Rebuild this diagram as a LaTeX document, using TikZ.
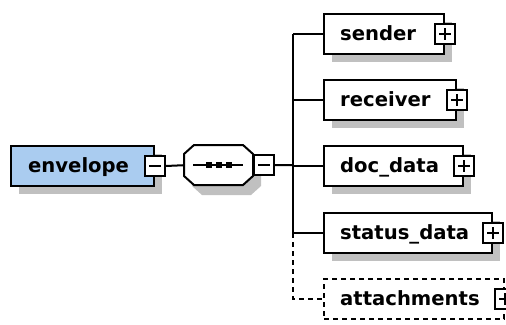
\documentclass[tikz,border=0pt]{standalone}
\usepackage{fontspec}
\setmainfont{DejaVu Sans}
\usetikzlibrary{shadows}
\definecolor{envfill}{RGB}{170,204,240}
\definecolor{shadowc}{RGB}{192,192,192}
\begin{document}
\begin{tikzpicture}[x=1pt,y=-1pt,
  elem/.style={draw=black, line width=2pt, fill=white, minimum height=40pt, inner sep=0pt, anchor=north west,
    drop shadow={shadow xshift=8pt, shadow yshift=-8pt, fill=shadowc, opacity=1}},
  optelem/.style={draw=black, line width=2pt, fill=white, minimum height=40pt, inner sep=0pt, anchor=north west, dash pattern=on 5pt off 4pt},
  lbl/.style={font=\bfseries\fontsize{19.6}{22}\selectfont, anchor=base west, inner sep=0pt},
  tog/.style={draw=black, line width=1.8pt, fill=white, minimum width=20pt, minimum height=20pt, inner sep=0pt},
  plus/.style={tog, path picture={
    \draw[line width=1.8pt] ([xshift=4pt]path picture bounding box.west) -- ([xshift=-4pt]path picture bounding box.east);
    \draw[line width=1.8pt] ([yshift=-4pt]path picture bounding box.north) -- ([yshift=4pt]path picture bounding box.south);}},
  minus/.style={tog, path picture={
    \draw[line width=1.8pt] ([xshift=4pt]path picture bounding box.west) -- ([xshift=-4pt]path picture bounding box.east);}},
  conn/.style={line width=2pt},
  optconn/.style={line width=2pt, dash pattern=on 5pt off 4pt}
]
\useasboundingbox (0,0) rectangle (506,324);

% envelope
\node[elem, fill=envfill, minimum width=143pt] (envelope) at (10,145) {};
\node[lbl] (envlbl) at ([xshift=18pt,yshift=-6.5pt]envelope.west) {envelope};
\node[minus] (envT) at (envelope.east) {};

% sequence compositor
\fill[shadowc] (202,155) -- (251,155) -- (261,164) -- (261,186) -- (251,195) -- (202,195) -- (192,186) -- (192,164) -- cycle;
\draw[line width=2pt, fill=white] (194,145) -- (243,145) -- (253,154) -- (253,176) -- (243,185) -- (194,185) -- (184,176) -- (184,154) -- cycle;
\node[minimum width=69pt, minimum height=40pt, inner sep=0pt, anchor=north west] (seq) at (184,145) {};
\draw[line width=2pt] (193,165) -- (243,165);
\fill (206,162) rectangle (212,168);
\fill (216,162) rectangle (222,168);
\fill (226,162) rectangle (232,168);
\node[minus, anchor=west] (seqT) at (seq.east) {};

% children
\node[elem, minimum width=120pt] (sender) at (323,13) {};
\node[lbl] at ([xshift=17pt,yshift=-6pt]sender.west) {sender};
\node[plus] (senderT) at (sender.east) {};

\node[elem, minimum width=132pt] (receiver) at (323,79) {};
\node[lbl] at ([xshift=17pt,yshift=-6pt]receiver.west) {receiver};
\node[plus] (receiverT) at (receiver.east) {};

\node[elem, minimum width=139pt] (docdata) at (323,145) {};
\node[lbl] at ([xshift=17pt,yshift=-6pt]docdata.west) {doc\_data};
\node[plus] (docdataT) at (docdata.east) {};

\node[elem, minimum width=168pt] (status) at (323,212) {};
\node[lbl] at ([xshift=17pt,yshift=-6pt]status.west) {status\_data};
\node[plus] (statusT) at (status.east) {};

\node[optelem, minimum width=180pt] (attach) at (323,278) {};
\node[lbl] at ([xshift=17pt,yshift=-6pt]attach.west) {attachments};
\node[plus] (attachT) at (attach.east) {};

% connectors
\coordinate (trunk) at (293,165);
\draw[conn] (envT.east) -- (seq.west);
\draw[conn] (seqT.east) -- (trunk);
\draw[conn] (trunk |- sender.west) -- (trunk |- status.west);
\draw[conn] (trunk |- sender.west) -- (sender.west);
\draw[conn] (trunk |- receiver.west) -- (receiver.west);
\draw[conn] (trunk |- docdata.west) -- (docdata.west);
\draw[conn] (trunk |- status.west) -- (status.west);
\draw[optconn] (trunk |- status.west) -- (trunk |- attach.west) -- (attach.west);
\end{tikzpicture}
\end{document}
